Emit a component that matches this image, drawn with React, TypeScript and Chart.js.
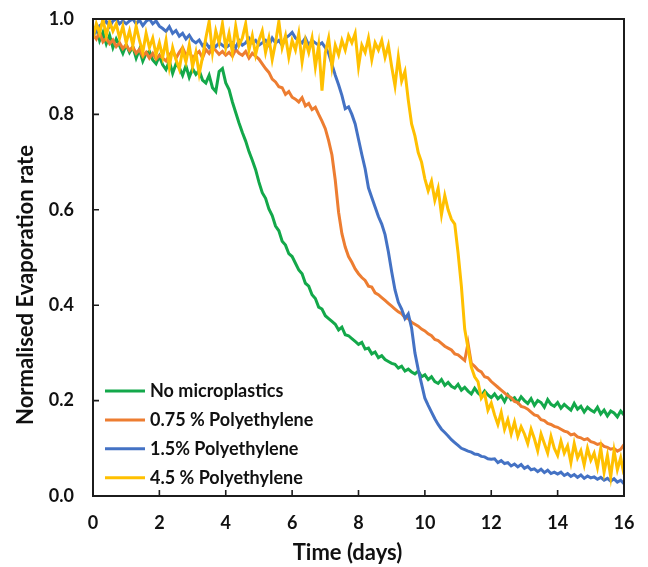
import React, { useEffect, useRef } from "react";
import Chart from "chart.js/auto";

// ---------------- data ----------------
const TIME_STEP_DAYS = 0.1; // sampling step of the series below (0 .. 16 days)
const X_TICKS = [0, 2, 4, 6, 8, 10, 12, 14, 16];
const Y_TICKS = [0, 0.2, 0.4, 0.6, 0.8, 1.0];

const SERIES_LABELS = [
  "No microplastics",
  "0.75 % Polyethylene",
  "1.5% Polyethylene",
  "4.5 % Polyethylene",
];

const NO_MICROPLASTICS = [
  0.97, 0.985, 0.955, 0.972, 0.948, 0.966, 0.94, 0.958, 0.944, 0.928, 0.946,
  0.93, 0.942, 0.918, 0.936, 0.912, 0.928, 0.932, 0.914, 0.906, 0.922,
  0.904, 0.894, 0.912, 0.886, 0.906, 0.898, 0.882, 0.902, 0.878, 0.896,
  0.884, 0.892, 0.872, 0.866, 0.882, 0.856, 0.848, 0.89, 0.896, 0.866,
  0.852, 0.826, 0.804, 0.782, 0.762, 0.744, 0.722, 0.704, 0.684, 0.658,
  0.636, 0.624, 0.602, 0.588, 0.566, 0.556, 0.534, 0.526, 0.508, 0.502,
  0.488, 0.474, 0.466, 0.446, 0.44, 0.422, 0.414, 0.396, 0.392, 0.378,
  0.372, 0.366, 0.36, 0.348, 0.354, 0.338, 0.336, 0.33, 0.324, 0.318,
  0.322, 0.308, 0.31, 0.298, 0.302, 0.29, 0.294, 0.286, 0.282, 0.278,
  0.276, 0.268, 0.272, 0.262, 0.266, 0.26, 0.256, 0.262, 0.25, 0.254,
  0.244, 0.25, 0.24, 0.236, 0.244, 0.232, 0.238, 0.23, 0.226, 0.234,
  0.222, 0.228, 0.22, 0.214, 0.226, 0.216, 0.21, 0.22, 0.212, 0.206,
  0.214, 0.204, 0.21, 0.198, 0.212, 0.202, 0.206, 0.196, 0.208, 0.2,
  0.194, 0.204, 0.19, 0.2, 0.196, 0.186, 0.202, 0.192, 0.188, 0.196,
  0.184, 0.192, 0.186, 0.18, 0.194, 0.182, 0.188, 0.176, 0.186, 0.18,
  0.176, 0.186, 0.172, 0.18, 0.168, 0.178, 0.174, 0.166, 0.178, 0.17,
];

const PE_075 = [
  0.968, 0.958, 0.972, 0.952, 0.96, 0.948, 0.956, 0.942, 0.95, 0.938, 0.946,
  0.934, 0.942, 0.928, 0.936, 0.922, 0.93, 0.918, 0.928, 0.916, 0.924,
  0.918, 0.912, 0.924, 0.934, 0.918, 0.93, 0.94, 0.924, 0.932, 0.918,
  0.926, 0.932, 0.918, 0.936, 0.928, 0.94, 0.934, 0.926, 0.932, 0.924,
  0.93, 0.922, 0.936, 0.928, 0.924, 0.932, 0.918, 0.928, 0.922, 0.916,
  0.906, 0.896, 0.888, 0.874, 0.868, 0.858, 0.856, 0.842, 0.848, 0.836,
  0.832, 0.826, 0.835, 0.818, 0.823, 0.81, 0.815, 0.8, 0.786, 0.77,
  0.745, 0.715, 0.662, 0.595, 0.55, 0.522, 0.502, 0.49, 0.476, 0.466,
  0.458, 0.452, 0.44, 0.438, 0.426, 0.422, 0.416, 0.41, 0.404, 0.398,
  0.392, 0.386, 0.382, 0.374, 0.372, 0.364, 0.36, 0.356, 0.35, 0.346,
  0.34, 0.336, 0.328, 0.326, 0.32, 0.314, 0.31, 0.306, 0.298, 0.296,
  0.29, 0.284, 0.32, 0.278, 0.272, 0.264, 0.26, 0.25, 0.248, 0.24,
  0.234, 0.228, 0.222, 0.216, 0.21, 0.206, 0.198, 0.196, 0.188, 0.186,
  0.182, 0.176, 0.17, 0.168, 0.16, 0.158, 0.152, 0.15, 0.146, 0.144,
  0.14, 0.136, 0.134, 0.128, 0.13, 0.124, 0.122, 0.118, 0.12, 0.114,
  0.112, 0.108, 0.11, 0.104, 0.102, 0.098, 0.1, 0.094, 0.098, 0.108,
];

const PE_15 = [
  0.965, 0.975, 0.986, 0.99, 0.995, 0.984, 0.996, 1.0, 0.99, 0.996, 0.99,
  0.996, 1.0, 0.99, 0.998, 0.986, 0.995, 1.0, 0.99, 0.996, 0.985,
  0.98, 0.974, 0.984, 0.97, 0.976, 0.964, 0.97, 0.958, 0.966, 0.955,
  0.95, 0.956, 0.944, 0.95, 0.94, 0.948, 0.942, 0.95, 0.945, 0.94,
  0.945, 0.95, 0.94, 0.955, 0.945, 0.95, 0.96, 0.95, 0.955, 0.945,
  0.95, 0.955, 0.945, 0.96, 0.95, 0.955, 0.945, 0.96, 0.965, 0.972,
  0.96, 0.955, 0.95, 0.96, 0.945, 0.955, 0.95, 0.945, 0.95, 0.94,
  0.928, 0.905, 0.882, 0.862, 0.84, 0.812, 0.816, 0.8, 0.78, 0.748,
  0.716, 0.686, 0.646, 0.626, 0.606, 0.586, 0.57, 0.548, 0.512, 0.47,
  0.432, 0.406, 0.392, 0.372, 0.382, 0.352, 0.3, 0.265, 0.235, 0.205,
  0.19, 0.176, 0.162, 0.15, 0.14, 0.133, 0.126, 0.118, 0.112, 0.106,
  0.1, 0.097, 0.094, 0.092, 0.088, 0.087, 0.083, 0.082, 0.078, 0.077,
  0.078, 0.07, 0.074, 0.068, 0.07, 0.063, 0.067, 0.061, 0.066, 0.058,
  0.062, 0.055, 0.057, 0.051, 0.056, 0.049, 0.054, 0.047, 0.05, 0.046,
  0.05, 0.043, 0.047, 0.041, 0.045, 0.039, 0.044, 0.037, 0.042, 0.038,
  0.04, 0.035, 0.039, 0.033, 0.037, 0.031, 0.036, 0.029, 0.033, 0.026,
];

const PE_45 = [
  0.96, 0.99, 0.97, 1.0, 0.965, 0.995, 0.975, 0.99, 0.96, 0.985, 0.95,
  0.975, 0.945, 0.985, 0.955, 0.93, 0.97, 0.94, 0.96, 0.925, 0.95,
  0.92, 0.955, 0.9, 0.94, 0.915, 0.895, 0.935, 0.91, 0.945, 0.9,
  0.93, 0.885, 0.92, 0.96, 0.995, 0.93, 0.975, 0.95, 0.99, 0.94,
  0.97, 0.93, 0.985, 0.945, 0.96, 0.99, 0.935, 0.965, 0.925, 0.955,
  0.975, 0.93, 0.96, 0.915, 0.95, 0.995, 0.94, 0.965, 0.92, 0.955,
  0.935, 0.97, 0.91, 0.955, 0.93, 0.96, 0.9, 0.945, 0.85, 0.93,
  0.96, 0.9, 0.945, 0.925, 0.955, 0.935, 0.965, 0.95, 0.97, 0.9,
  0.945, 0.93, 0.96, 0.915, 0.95, 0.935, 0.955, 0.92, 0.945, 0.9,
  0.86, 0.92, 0.87, 0.89, 0.83, 0.78, 0.755, 0.72, 0.7, 0.665,
  0.64, 0.66, 0.62, 0.645, 0.59, 0.63, 0.6, 0.58, 0.57, 0.51,
  0.44, 0.35, 0.31, 0.27, 0.25, 0.24, 0.205, 0.215, 0.18, 0.195,
  0.17, 0.15, 0.175, 0.14, 0.16, 0.13, 0.155, 0.125, 0.145, 0.13,
  0.11, 0.14, 0.12, 0.095, 0.13, 0.11, 0.09, 0.125, 0.1, 0.085,
  0.115, 0.09, 0.105, 0.07, 0.11, 0.08, 0.095, 0.065, 0.1, 0.075,
  0.09, 0.06, 0.1, 0.05, 0.085, 0.04, 0.095, 0.055, 0.08, 0.045,
];

// ---------------- styling ----------------
const COLORS = ["#13A84A", "#ED7D31", "#4472C4", "#FFC000"];
const AXIS_COLOR = "#1c1c1c";
const TEXT_COLOR = "#111111";
const FONT_FAMILY = "Lato, 'Open Sans', sans-serif";

const toPoints = (values: number[]) =>
  values.map((v, i) => ({ x: +(i * TIME_STEP_DAYS).toFixed(1), y: v }));

const framePlugin = {
  id: "framePlugin",
  afterDatasetsDraw(chart: any) {
    const { ctx, chartArea: a, scales } = chart;
    ctx.save();
    // plot box
    ctx.strokeStyle = AXIS_COLOR;
    ctx.lineWidth = 2;
    ctx.strokeRect(a.left, a.top, a.right - a.left, a.bottom - a.top);
    // inward tick marks
    ctx.lineWidth = 1.6;
    ctx.beginPath();
    scales.x.ticks.forEach((_t: any, i: number) => {
      const px = scales.x.getPixelForTick(i);
      ctx.moveTo(px, a.bottom);
      ctx.lineTo(px, a.bottom - 6);
    });
    scales.y.ticks.forEach((_t: any, i: number) => {
      const py = scales.y.getPixelForTick(i);
      ctx.moveTo(a.left, py);
      ctx.lineTo(a.left + 6, py);
    });
    ctx.stroke();

    // axis titles
    ctx.fillStyle = TEXT_COLOR;
    ctx.font = `bold 22px ${FONT_FAMILY}`;
    ctx.textAlign = "center";
    ctx.textBaseline = "alphabetic";
    ctx.fillText("Time (days)", (a.left + a.right) / 2 - 11, 560);
    ctx.save();
    ctx.translate(33, 285);
    ctx.rotate(-Math.PI / 2);
    ctx.fillText("Normalised Evaporation rate", 0, 0);
    ctx.restore();

    // legend inside the plot, lower left
    ctx.font = `bold 18px ${FONT_FAMILY}`;
    ctx.textAlign = "left";
    chart.data.datasets.forEach((ds: any, i: number) => {
      const y = a.bottom - 105 + i * 28.9;
      ctx.strokeStyle = ds.borderColor;
      ctx.lineWidth = 3;
      ctx.beginPath();
      ctx.moveTo(a.left + 12, y);
      ctx.lineTo(a.left + 52, y);
      ctx.stroke();
      ctx.fillStyle = TEXT_COLOR;
      ctx.fillText(ds.label, a.left + 57, y + 6);
    });
    ctx.restore();
  },
};

export default function App() {
  const canvasRef = useRef<HTMLCanvasElement | null>(null);

  useEffect(() => {
    if (!canvasRef.current) return;
    const seriesValues = [NO_MICROPLASTICS, PE_075, PE_15, PE_45];
    const chart = new Chart(canvasRef.current, {
      type: "line",
      data: {
        datasets: seriesValues.map((vals, i) => ({
          label: SERIES_LABELS[i],
          data: toPoints(vals),
          borderColor: COLORS[i],
          backgroundColor: COLORS[i],
          borderWidth: 3,
          pointRadius: 0,
          tension: 0,
          fill: false,
          order: 4 - i,
        })),
      },
      options: {
        responsive: false,
        animation: false,
        devicePixelRatio: 1,
        layout: { padding: { top: 19, right: 24, left: 0, bottom: 0 } },
        plugins: {
          legend: { display: false },
          tooltip: { enabled: false },
        },
        scales: {
          x: {
            type: "linear",
            min: 0,
            max: 16,
            afterBuildTicks: (scale: any) => {
              scale.ticks = X_TICKS.map((v) => ({ value: v }));
            },
            afterFit: (scale: any) => {
              scale.height = 71;
            },
            grid: { display: false, drawTicks: true, tickLength: 16 },
            border: { display: false },
            ticks: {
              color: TEXT_COLOR,
              padding: 0,
              maxRotation: 0,
              autoSkip: false,
              font: { family: FONT_FAMILY, size: 18, weight: "bold" },
              callback: (v: any) => String(v),
            },
          },
          y: {
            type: "linear",
            min: 0,
            max: 1,
            afterBuildTicks: (scale: any) => {
              scale.ticks = Y_TICKS.map((v) => ({ value: v }));
            },
            afterFit: (scale: any) => {
              scale.width = 93;
            },
            grid: { display: false, drawTicks: true, tickLength: 19 },
            border: { display: false },
            ticks: {
              color: TEXT_COLOR,
              padding: 0,
              autoSkip: false,
              font: { family: FONT_FAMILY, size: 18, weight: "bold" },
              callback: (v: any) => Number(v).toFixed(1),
            },
          },
        },
      },
      plugins: [framePlugin],
    });
    return () => chart.destroy();
  }, []);

  return (
    <div style={{ position: "absolute", left: 0, top: 0, width: 648, height: 567, background: "#fff" }}>
      <canvas ref={canvasRef} width={648} height={567} />
    </div>
  );
}
